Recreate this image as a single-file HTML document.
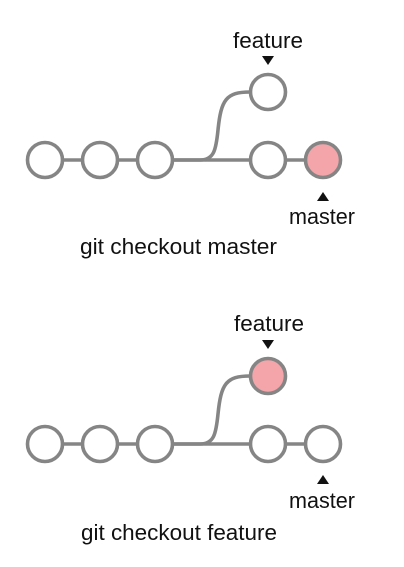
<!DOCTYPE html>
<html><head><style>html,body{margin:0;padding:0;background:#fff}</style></head>
<body>
<svg width="404" height="562" xmlns="http://www.w3.org/2000/svg" font-family="Liberation Sans, Arial, sans-serif">
<g stroke="#858585" stroke-width="3.6" fill="none">
  <line x1="63" y1="160" x2="82" y2="160"/><line x1="118" y1="160" x2="137" y2="160"/>
  <line x1="173" y1="160" x2="250" y2="160"/><line x1="287" y1="160" x2="305" y2="160"/>
  <path d="M173 160 L200 160 C214 160 216 150 218 130 C221 100 226 92 250 92"/>
  <line x1="63" y1="444" x2="82" y2="444"/><line x1="118" y1="444" x2="137" y2="444"/>
  <line x1="173" y1="444" x2="250" y2="444"/><line x1="287" y1="444" x2="305" y2="444"/>
  <path d="M173 444 L200 444 C214 444 216 434 218 414 C221 384 226 376 250 376"/>
</g>
<g stroke="#858585" stroke-width="3.6" fill="#fff">
  <circle cx="45" cy="160" r="17.5"/><circle cx="100" cy="160" r="17.5"/><circle cx="155" cy="160" r="17.5"/>
  <circle cx="268" cy="160" r="17.5"/><circle cx="323" cy="160" r="17.5" fill="#f4a5aa"/>
  <circle cx="268" cy="92" r="17.5"/>
  <circle cx="45" cy="444" r="17.5"/><circle cx="100" cy="444" r="17.5"/><circle cx="155" cy="444" r="17.5"/>
  <circle cx="268" cy="444" r="17.5"/><circle cx="323" cy="444" r="17.5"/>
  <circle cx="268" cy="376" r="17.5" fill="#f4a5aa"/>
</g>
<g fill="#111">
  <polygon points="262,56 274,56 268,65"/>
  <polygon points="317,201 329,201 323,192"/>
  <polygon points="262,340 274,340 268,349"/>
  <polygon points="317,484 329,484 323,475"/>
</g>
<g fill="#111" font-size="22">
  <text x="233" y="48" textLength="70" lengthAdjust="spacingAndGlyphs">feature</text>
  <text x="289" y="224" textLength="66" lengthAdjust="spacingAndGlyphs">master</text>
  <text x="80" y="254" textLength="197" lengthAdjust="spacingAndGlyphs">git checkout master</text>
  <text x="234" y="331" textLength="70" lengthAdjust="spacingAndGlyphs">feature</text>
  <text x="289" y="508" textLength="66" lengthAdjust="spacingAndGlyphs">master</text>
  <text x="81" y="540" textLength="196" lengthAdjust="spacingAndGlyphs">git checkout feature</text>
</g>
</svg>
</body></html>
